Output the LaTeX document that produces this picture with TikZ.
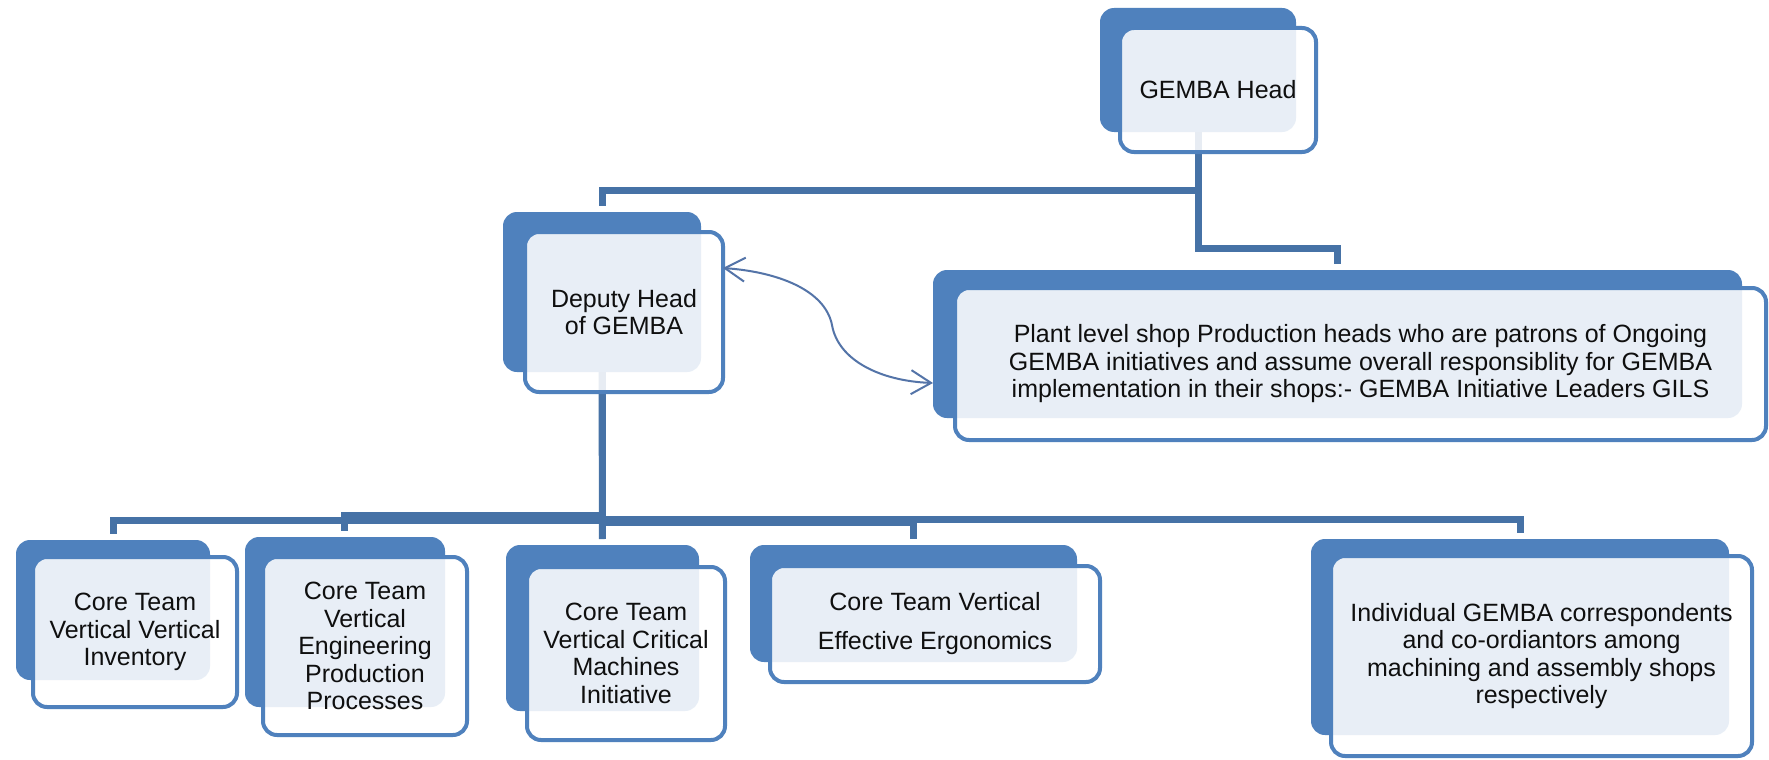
\documentclass[tikz,border=0pt]{standalone}
\usepackage{fontspec}
\setmainfont{Liberation Sans}
\usetikzlibrary{arrows.meta,calc}
\definecolor{gblue}{RGB}{79,129,189}
\definecolor{gline}{RGB}{70,114,166}
\definecolor{garrow}{RGB}{84,116,168}
\definecolor{gtext}{RGB}{15,15,15}
\newcommand\gbox[9]{%
  \node[backbox, minimum width={#4pt-#2pt}, minimum height={#5pt-#3pt}] (#1B) at ({(#2+#4)/2},{(#3+#5)/2}) {};
  \node[frontbox, minimum width={#8pt-#6pt}, minimum height={#9pt-#7pt}] (#1) at ({(#6+#8)/2},{(#7+#9)/2}) {};
}
\begin{document}
\begin{tikzpicture}[x=1pt,y=-1pt,
  backbox/.style={rectangle, fill=gblue, rounded corners=14pt, inner sep=0pt, outer sep=0pt},
  frontbox/.style={rectangle, draw=gblue, line width=4pt, fill=white, fill opacity=0.87, rounded corners=14pt, inner sep=0pt, outer sep=0pt},
  lbl/.style={align=center, text=gtext, inner sep=0pt, font=\fontsize{25}{27.5}\selectfont},
  conn/.style={draw=gline, line width=7pt, shorten >=6pt},
  link/.style={draw=garrow, line width=2pt, {Straight Barb[length=20pt,width=24pt]}-{Straight Barb[length=20pt,width=24pt]}}]
\fill[white] (0,0) rectangle (1769,760);
\useasboundingbox (0,0) rectangle (1769,760);

% connectors (behind the boxes)
\coordinate (headS) at (1198,132);
\coordinate (depN) at (602,212);
\coordinate (plantN) at (1337.5,270);
\coordinate (depS) at (602,372);
\coordinate (invN) at (113,540);
\coordinate (engN) at (344,537);
\coordinate (criN) at (602.5,545);
\coordinate (ergN) at (913.5,545);
\coordinate (indN) at (1520,539);
\draw[conn] (headS) -- ++(0,58) -| (depN);
\draw[conn] (headS) -- ++(0,116) -| (plantN);
\draw[conn] (depS) -- ++(0,148) -| (invN);
\draw[conn] (depS) -- ++(0,143) -| (engN);
\draw[conn] (depS) -- (criN);
\draw[conn] (depS) -- ++(0,150) -| (ergN);
\draw[conn] (depS) -- ++(0,147) -| (indN);

% boxes
\gbox{head}{1100}{8}{1296}{132}{1120}{28}{1316}{152}
\gbox{dep}{503}{212}{701}{372}{525}{232}{723}{392}
\gbox{plant}{933}{270}{1742}{418}{955}{288}{1766}{440}
\gbox{inv}{16}{540}{210}{680}{33}{557}{237}{707}
\gbox{eng}{245}{537}{445}{707}{263}{557}{467}{735}
\gbox{cri}{506}{545}{699}{711}{527}{567}{725}{740}
\gbox{erg}{750}{545}{1077}{662}{770}{566}{1100}{682}
\gbox{ind}{1311}{539}{1729}{735}{1331}{556}{1752}{756}

% texts
\node[lbl] (headT) at (head.center) {GEMBA Head};
\node[lbl] (depT) at (dep.center) {Deputy Head\\of GEMBA};
\node[lbl] (plantT) at (plant.center) {Plant level shop Production heads who are patrons of Ongoing\\GEMBA initiatives and assume overall responsiblity for GEMBA\\implementation in their shops:- GEMBA Initiative Leaders GILS};
\node[lbl] (invT) at (inv.center) {Core Team\\Vertical Vertical\\Inventory};
\node[lbl] (engT) at (eng.center) {Core Team\\Vertical\\Engineering\\Production\\Processes};
\node[lbl] (criT) at (cri.center) {Core Team\\Vertical Critical\\Machines\\Initiative};
\node[lbl, font=\fontsize{25}{39}\selectfont] (ergT) at (erg.center) {Core Team Vertical\\Effective Ergonomics};
\node[lbl] (indT) at (ind.center) {Individual GEMBA correspondents\\and co-ordiantors among\\machining and assembly shops\\respectively};

% curved two-way link
\draw[link] ($(dep.east)+(0,-44)$) .. controls +(55,4) and +(-7,-35) .. (832,325) .. controls +(6,35) and +(-53,-2) .. ($(plantB.west)+(0,39)$);
\end{tikzpicture}
\end{document}
